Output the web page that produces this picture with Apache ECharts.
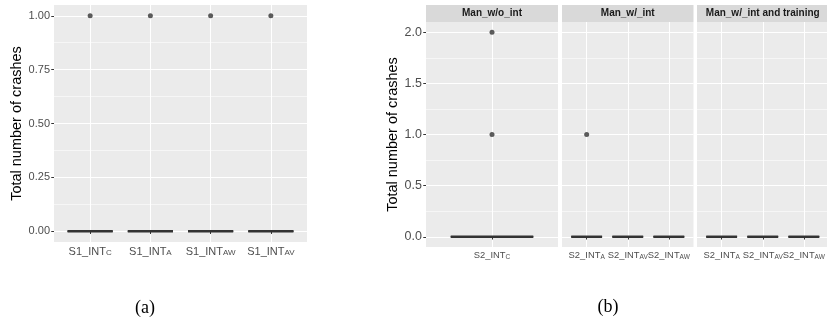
<!DOCTYPE html>
<html>
<head>
<meta charset="utf-8">
<script src="https://cdn.jsdelivr.net/npm/echarts@6/dist/echarts.min.js"></script>
<style>
html, body { margin: 0; padding: 0; background: #fff; }
#main { width: 827px; height: 324px; }
</style>
</head>
<body>
<div id="main"></div>
<script>
// ---- panel (a) ----
var catsA = ['S1_INT_C', 'S1_INT_A', 'S1_INT_AW', 'S1_INT_AV'];
// box stats per category: min, q1, median, q3, max
var boxA = [[0, 0, 0, 0, 0], [0, 0, 0, 0, 0], [0, 0, 0, 0, 0], [0, 0, 0, 0, 0]];
var outA = [[1], [1], [1], [1]];
var yTicksA = [0, 0.25, 0.5, 0.75, 1];
var yMinorA = [0.125, 0.375, 0.625, 0.875];

// ---- panel (b) ----
var facetsB = ['Man_w/o_int', 'Man_w/_int', 'Man_w/_int and training'];
var catsB1 = ['S2_INT_C'];
var catsB2 = ['S2_INT_A', 'S2_INT_AV', 'S2_INT_AW'];
var catsB3 = ['S2_INT_A', 'S2_INT_AV', 'S2_INT_AW'];
var boxB1 = [[0, 0, 0, 0, 0]];
var boxB2 = [[0, 0, 0, 0, 0], [0, 0, 0, 0, 0], [0, 0, 0, 0, 0]];
var boxB3 = [[0, 0, 0, 0, 0], [0, 0, 0, 0, 0], [0, 0, 0, 0, 0]];
var outB1 = [[1, 2]];
var outB2 = [[1], [], []];
var outB3 = [[], [], []];
var yTicksB = [0, 0.5, 1, 1.5, 2];
var yMinorB = [0.25, 0.75, 1.25, 1.75];

var FONT = '"Liberation Sans", Arial, sans-serif';
var txtGrey = '#4d4d4d';
var darkGrey = '#333333';

var panels = [
  { left: 54, top: 5, width: 253, height: 237, cats: catsA, box: boxA, out: outA,
    ymin: -0.05, ymax: 1.05, ticks: yTicksA, minor: yMinorA, dec: 2, ySize: 11,
    xSize: 11, subSize: 8, subDrop: 3, showY: true, nameGap: 29 },
  { left: 426, top: 22, width: 132, height: 225, cats: catsB1, box: boxB1, out: outB1,
    ymin: -0.1, ymax: 2.1, ticks: yTicksB, minor: yMinorB, dec: 1, ySize: 12.5,
    xSize: 9.4, subSize: 6.5, subDrop: 2.5, showY: true, nameGap: 21, strip: facetsB[0] },
  { left: 562, top: 22, width: 131.5, height: 225, cats: catsB2, box: boxB2, out: outB2,
    ymin: -0.1, ymax: 2.1, ticks: yTicksB, minor: yMinorB, dec: 1, ySize: 12.5,
    xSize: 9.4, subSize: 6.5, subDrop: 2.5, showY: false, strip: facetsB[1] },
  { left: 697, top: 22, width: 131.5, height: 225, cats: catsB3, box: boxB3, out: outB3,
    ymin: -0.1, ymax: 2.1, ticks: yTicksB, minor: yMinorB, dec: 1, ySize: 12.5,
    xSize: 9.4, subSize: 6.5, subDrop: 2.5, showY: false, strip: facetsB[2] }
];

function seq(n) {
  var r = [];
  for (var i = 1; i <= n; i++) r.push(i);
  return r;
}

function renderBox(params, api) {
  var x = api.value(0);
  var lo = api.value(1), q1 = api.value(2), md = api.value(3), q3 = api.value(4), hi = api.value(5);
  var hw = 0.375;
  var pL1 = api.coord([x - hw, q1]), pR3 = api.coord([x + hw, q3]);
  var pL = api.coord([x - hw, md]), pR = api.coord([x + hw, md]);
  var pc = api.coord([x, q1]), pc3 = api.coord([x, q3]);
  var pLo = api.coord([x, lo]), pHi = api.coord([x, hi]);
  return {
    type: 'group',
    children: [
      { type: 'line', shape: { x1: pc[0], y1: pc[1], x2: pLo[0], y2: pLo[1] },
        style: { stroke: darkGrey, lineWidth: 1 } },
      { type: 'line', shape: { x1: pc3[0], y1: pc3[1], x2: pHi[0], y2: pHi[1] },
        style: { stroke: darkGrey, lineWidth: 1 } },
      { type: 'rect', shape: { x: pL1[0], y: pR3[1], width: pR3[0] - pL1[0], height: pL1[1] - pR3[1] },
        style: { fill: '#ffffff', stroke: darkGrey, lineWidth: 1 } },
      { type: 'line', shape: { x1: pL[0], y1: pL[1], x2: pR[0], y2: pR[1] },
        style: { stroke: darkGrey, lineWidth: 2.5 } }
    ]
  };
}

var grids = [], xAxes = [], yAxes = [], series = [], graphics = [];

panels.forEach(function (p, g) {
  var n = p.cats.length;
  grids.push({
    left: p.left, top: p.top, width: p.width, height: p.height,
    show: true, backgroundColor: '#ebebeb', borderWidth: 0,
    containLabel: false, outerBoundsMode: 'none'
  });
  var cats = p.cats;
  xAxes.push({
    type: 'value', gridIndex: g, min: 0.4, max: n + 0.6,
    axisLine: { show: false },
    axisTick: { show: true, length: 2.75, lineStyle: { color: darkGrey, width: 1 }, customValues: seq(n) },
    axisLabel: {
      show: true, margin: 4, customValues: seq(n), fontFamily: FONT,
      formatter: function (v) {
        var name = cats[Math.round(v) - 1] || '';
        var k = name.lastIndexOf('_');
        return '{m|' + name.slice(0, k) + '}{s|' + name.slice(k + 1) + '}';
      },
      rich: {
        m: { fontSize: p.xSize, color: txtGrey, fontFamily: FONT, padding: [0, 0, p.subDrop, 0] },
        s: { fontSize: p.subSize, color: txtGrey, fontFamily: FONT }
      }
    },
    splitLine: { show: true, lineStyle: { color: '#ffffff', width: 1.1 } }
  });
  // major y axis
  yAxes.push({
    type: 'value', gridIndex: g, min: p.ymin, max: p.ymax,
    name: p.showY ? 'Total number of crashes' : '',
    nameLocation: 'middle', nameGap: p.nameGap || 0, nameRotate: 90,
    nameTextStyle: { fontSize: 14.5, color: '#000000', fontFamily: FONT },
    axisLine: { show: false },
    axisTick: { show: p.showY, length: 2.75, lineStyle: { color: darkGrey, width: 1 }, customValues: p.ticks },
    axisLabel: {
      show: p.showY, margin: 4, customValues: p.ticks, fontSize: p.ySize, color: txtGrey, fontFamily: FONT,
      formatter: (function (d) { return function (v) { return v.toFixed(d); }; })(p.dec)
    },
    splitLine: { show: true, lineStyle: { color: '#ffffff', width: 1.1 } }
  });
  // minor gridlines
  yAxes.push({
    type: 'value', gridIndex: g, min: p.ymin, max: p.ymax, position: 'left',
    axisLine: { show: false },
    axisTick: { show: false, customValues: p.minor },
    axisLabel: { show: false, customValues: p.minor },
    splitLine: { show: true, lineStyle: { color: '#ffffff', width: 0.55 } }
  });

  var boxData = p.box.map(function (b, i) { return [i + 1].concat(b); });
  series.push({
    type: 'custom', xAxisIndex: g, yAxisIndex: 2 * g, z: 3,
    renderItem: renderBox, data: boxData, silent: true, clip: false
  });
  var ptData = [];
  p.out.forEach(function (vals, i) {
    vals.forEach(function (v) { ptData.push([i + 1, v]); });
  });
  series.push({
    type: 'scatter', xAxisIndex: g, yAxisIndex: 2 * g, z: 4,
    symbol: 'circle', symbolSize: 5, data: ptData,
    itemStyle: { color: darkGrey }, silent: true
  });

  if (p.strip) {
    graphics.push({
      type: 'rect', left: p.left, top: 5, z: 10,
      shape: { width: p.width, height: 17 },
      style: { fill: '#d9d9d9' }
    });
    graphics.push({
      type: 'text', x: p.left + p.width / 2, y: 13.5, z: 11,
      style: { text: p.strip, fill: '#1a1a1a', font: 'bold 10px ' + FONT,
               textAlign: 'center', textVerticalAlign: 'middle' }
    });
  }
});

graphics.push({
  type: 'text', x: 145, y: 308,
  style: { text: '(a)', fill: '#000', font: '18px "Liberation Serif", "DejaVu Serif", serif',
           textAlign: 'center', textVerticalAlign: 'middle' }
});
graphics.push({
  type: 'text', x: 608, y: 307,
  style: { text: '(b)', fill: '#000', font: '18px "Liberation Serif", "DejaVu Serif", serif',
           textAlign: 'center', textVerticalAlign: 'middle' }
});

var chart = echarts.init(document.getElementById('main'), null, { renderer: 'canvas' });
chart.setOption({
  animation: false,
  backgroundColor: '#ffffff',
  grid: grids,
  xAxis: xAxes,
  yAxis: yAxes,
  series: series,
  graphic: graphics
});
</script>
</body>
</html>
